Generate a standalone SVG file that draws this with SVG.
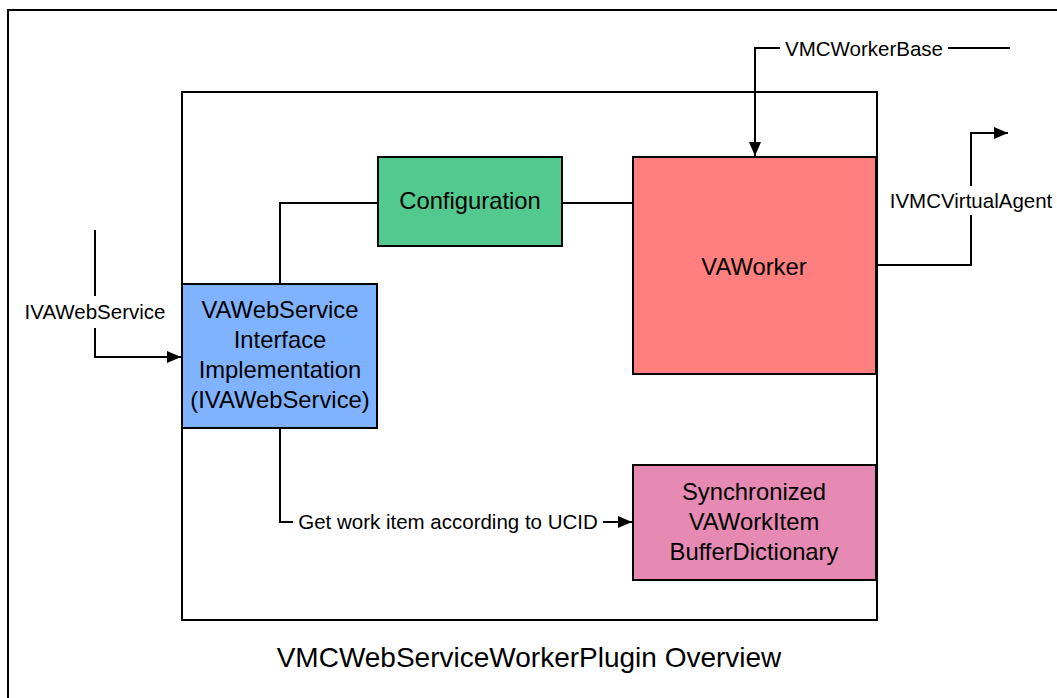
<svg xmlns="http://www.w3.org/2000/svg" width="1057" height="698" viewBox="0 0 1057 698">
<style>
text{font-family:"Liberation Sans",Arial,sans-serif;fill:#000}
.node{stroke:#000;stroke-width:2}
.nt{font-size:23.8px;text-anchor:middle}
.lbl{font-size:20.5px;text-anchor:middle}
.conn{fill:none;stroke:#000;stroke-width:2}
</style>
<defs>
<marker id="ah" viewBox="0 0 10 10" refX="10" refY="5" markerWidth="7" markerHeight="7" markerUnits="strokeWidth" orient="auto"><path d="M0,0.7 L10,5 L0,9.3 z" fill="#000"/></marker>
</defs>
<rect x="0" y="0" width="1057" height="698" fill="#fff"/>
<g id="frame"><rect x="8" y="10" width="1060" height="700" fill="none" stroke="#000" stroke-width="2"/></g>
<g id="plugin"><rect x="182" y="92" width="695" height="528" fill="#fff" stroke="#000" stroke-width="2"/></g>
<g id="connectors">
<path class="conn" d="M378,203 H280 V284"/>
<path class="conn" d="M562,203 H633"/>
<path class="conn" d="M95,230 V357 H181" marker-end="url(#ah)"/>
<path class="conn" d="M1010,48 H755 V156" marker-end="url(#ah)"/>
<path class="conn" d="M877,265 H971 V133 H1008" marker-end="url(#ah)"/>
<path class="conn" d="M280,428 V522 H632" marker-end="url(#ah)"/>
<rect x="22" y="296" width="146" height="32" fill="#fff"/>
<text class="lbl" x="95" y="319">IVAWebService</text>
<rect x="780" y="36" width="168" height="26" fill="#fff"/>
<text class="lbl" x="864" y="56">VMCWorkerBase</text>
<rect x="886" y="186" width="171" height="29" fill="#fff"/>
<text class="lbl" x="971" y="208">IVMCVirtualAgent</text>
<rect x="293" y="510" width="310" height="26" fill="#fff"/>
<text class="lbl" x="448" y="529">Get work item according to UCID</text>
</g>
<g id="configuration"><rect class="node" x="378" y="157" width="184" height="89" fill="#52c98f"/><text class="nt" x="470" y="209">Configuration</text></g>
<g id="vaworker"><rect class="node" x="633" y="157" width="243" height="217" fill="#ff7f7f"/><text class="nt" x="754" y="275">VAWorker</text></g>
<g id="vawebservice"><rect class="node" x="182" y="284" width="195" height="144" fill="#7fb2ff"/>
<text class="nt" x="280" y="318">VAWebService</text>
<text class="nt" x="280" y="348">Interface</text>
<text class="nt" x="280" y="378">Implementation</text>
<text class="nt" x="280" y="408">(IVAWebService)</text></g>
<g id="buffer"><rect class="node" x="633" y="465" width="243" height="115" fill="#e68ab3"/>
<text class="nt" x="754" y="500">Synchronized</text>
<text class="nt" x="754" y="530">VAWorkItem</text>
<text class="nt" x="754" y="560">BufferDictionary</text></g>
<g id="title"><text x="529" y="667" font-size="28" text-anchor="middle">VMCWebServiceWorkerPlugin Overview</text></g>
</svg>
